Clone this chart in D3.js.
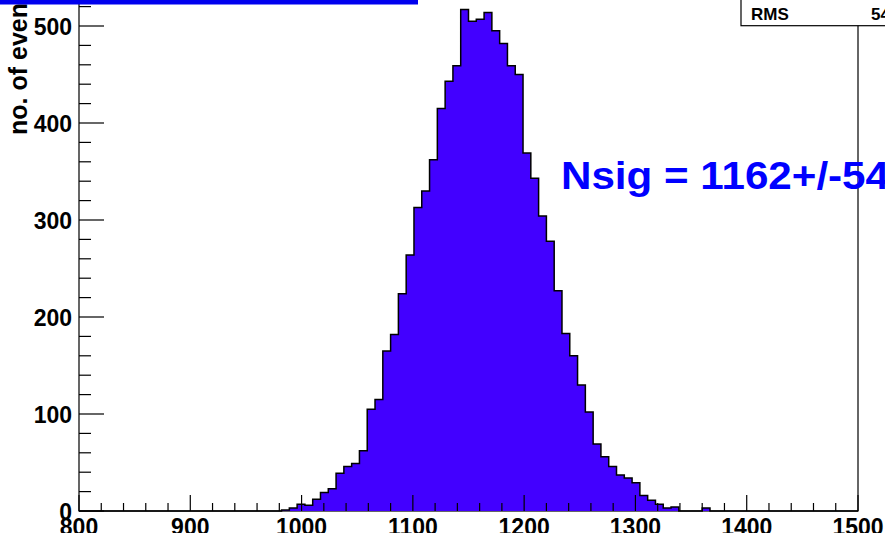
<!DOCTYPE html>
<html>
<head>
<meta charset="utf-8">
<script src="https://cdn.jsdelivr.net/npm/d3@7"></script>
<style>
  body { margin: 0; background: #fff; }
  svg { display: block; font-family: "Liberation Sans", Arial, sans-serif; }
</style>
</head>
<body>
<svg width="885" height="533"></svg>
<script>
var width = 885;
var height = 533;

// histogram: 100 bins of 7 from 800 to 1500
var binStart = 800;
var binWidth = 7;
var counts = [
  0, 0, 0, 0, 0, 0, 0, 0, 0, 0,
  0, 0, 0, 0, 0, 0, 0, 0, 0, 0,
  0, 0, 0, 0, 0, 0, 1, 3, 7, 6,
  12, 19, 23, 39, 46, 49, 62, 105, 115, 165,
  182, 224, 264, 313, 330, 362, 415, 443, 459, 517,
  505, 507, 514, 495, 482, 459, 450, 369, 343, 304,
  278, 227, 183, 160, 130, 102, 69, 56, 46, 37,
  34, 29, 16, 11, 7, 3, 4, 0, 0, 0,
  3, 0, 0, 0, 0, 0, 0, 0, 0, 0,
  0, 0, 0, 0, 0, 0, 0, 0, 0, 0
];

var xTicks = [800, 900, 1000, 1100, 1200, 1300, 1400, 1500];
var yTicks = [0, 100, 200, 300, 400, 500];
var yTitle = 'no. of events';
var note = 'Nsig = 1162+/-54';
var statsLabel = 'RMS';
var statsValue = '54';

var svg = d3.select('svg');

var x = d3.scaleLinear().domain([800, 1500]).range([79, 858]);
var y = d3.scaleLinear().domain([0, 500]).range([511, 26]);

// frame
svg.append('rect')
  .attr('x', x(800)).attr('y', y(545))
  .attr('width', x(1500) - x(800)).attr('height', y(0) - y(545))
  .attr('fill', 'none').attr('stroke', '#000').attr('stroke-width', 1.2);

// histogram outline points
var pts = [[binStart, 0]];
counts.forEach(function(c, i) {
  var lo = binStart + i * binWidth;
  pts.push([lo, c]);
  pts.push([lo + binWidth, c]);
});
pts.push([binStart + counts.length * binWidth, 0]);

var line = d3.line()
  .x(function(d) { return x(d[0]); })
  .y(function(d) { return y(d[1]); });

svg.append('path')
  .attr('d', line(pts))
  .attr('fill', '#4200ff')
  .attr('stroke', '#000')
  .attr('stroke-width', 1.5)
  .attr('stroke-linejoin', 'miter');

// x axis ticks
var xMinor = d3.range(800, 1501, 20);
svg.append('g').selectAll('line')
  .data(xMinor)
  .enter()
  .append('line')
  .attr('x1', function(d) { return x(d); })
  .attr('x2', function(d) { return x(d); })
  .attr('y1', y(0))
  .attr('y2', function(d) { return d % 100 === 0 ? y(0) - 16 : y(0) - 8; })
  .attr('stroke', '#000').attr('stroke-width', 1.2);

svg.append('g').selectAll('text')
  .data(xTicks)
  .enter()
  .append('text')
  .attr('x', function(d) { return x(d); })
  .attr('y', 535)
  .attr('text-anchor', 'middle')
  .attr('font-size', 23)
  .attr('font-weight', 'bold')
  .text(function(d) { return d; });

// y axis ticks
var yMinor = d3.range(0, 541, 20);
svg.append('g').selectAll('line')
  .data(yMinor)
  .enter()
  .append('line')
  .attr('x1', x(800))
  .attr('x2', function(d) { return d % 100 === 0 ? x(800) + 25 : x(800) + 12; })
  .attr('y1', function(d) { return y(d); })
  .attr('y2', function(d) { return y(d); })
  .attr('stroke', '#000').attr('stroke-width', 1.2);

svg.append('g').selectAll('text')
  .data(yTicks)
  .enter()
  .append('text')
  .attr('x', 72)
  .attr('y', function(d) { return y(d) + 8.5; })
  .attr('text-anchor', 'end')
  .attr('font-size', 23)
  .attr('font-weight', 'bold')
  .text(function(d) { return d; });

// y title
svg.append('text')
  .attr('transform', 'translate(27,135) rotate(-90)')
  .attr('font-size', 25)
  .attr('font-weight', 'bold')
  .text(yTitle);

// annotation
svg.append('text')
  .attr('x', 561)
  .attr('y', 189)
  .attr('font-size', 38)
  .attr('font-weight', 'bold')
  .attr('fill', '#0000ff')
  .attr('textLength', 328)
  .attr('lengthAdjust', 'spacingAndGlyphs')
  .text(note);

// title box (cut off at top)
svg.append('rect')
  .attr('x', -2).attr('y', -10)
  .attr('width', 420).attr('height', 14.5)
  .attr('fill', '#0000ee');

// stats box
svg.append('rect')
  .attr('x', 741).attr('y', -10)
  .attr('width', 200).attr('height', 35.7)
  .attr('fill', '#fff').attr('stroke', '#000').attr('stroke-width', 1.2);
svg.append('text')
  .attr('x', 751).attr('y', 19.5)
  .attr('font-size', 17).attr('font-weight', 'bold')
  .text(statsLabel);
svg.append('text')
  .attr('x', 871).attr('y', 19.5)
  .attr('font-size', 17).attr('font-weight', 'bold')
  .text(statsValue);
</script>
</body>
</html>
